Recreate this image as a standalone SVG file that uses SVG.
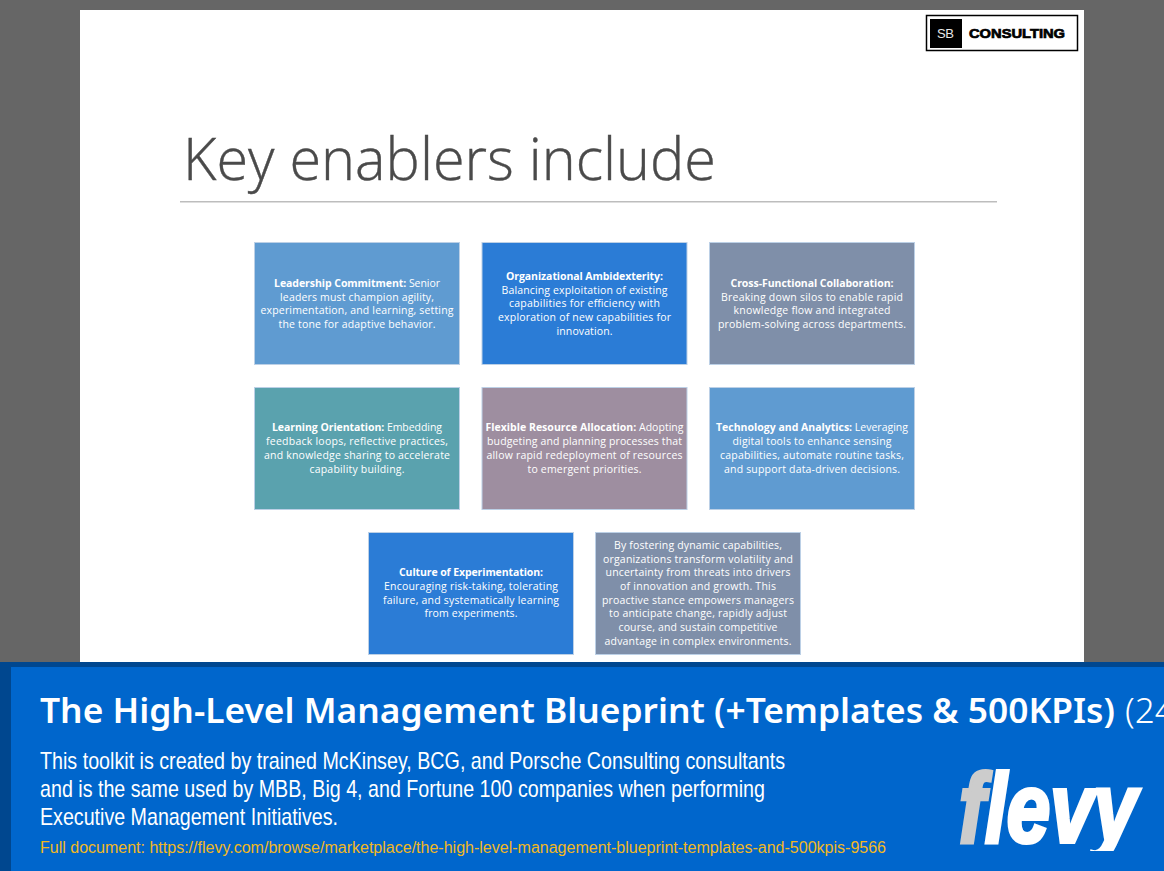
<svg xmlns="http://www.w3.org/2000/svg" width="1164" height="871" viewBox="0 0 1164 871">
<style>
.box{stroke:#bcd0e6;stroke-width:1}
.blue{fill:#5f9bd1}.deep{fill:#2b7cd6}.slate{fill:#7f8fa9}.teal{fill:#5aa2ae}.mauve{fill:#9e8ea0}
.t{font-family:"Open Sans","Noto Sans",sans-serif;font-size:10.5px;fill:#fff;text-anchor:middle}
.t .b,.b{font-weight:700}
.body{font-family:"Liberation Sans",Arial,sans-serif;font-size:24px;fill:#fff}
</style>
<defs><clipPath id="fl"><rect x="940" y="760" width="220" height="91"/></clipPath></defs>
<rect width="1164" height="871" fill="#666666"/>
<rect x="80" y="10" width="1004" height="652" fill="#ffffff"/>
<g id="logo">
<rect x="926.500" y="15.500" width="151" height="35" fill="#fff" stroke="#000" stroke-width="1.500"/>
<rect x="930" y="19" width="32" height="29" fill="#000"/>
<text x="937" y="37.500" font-family="Liberation Sans,sans-serif" font-size="13" fill="#e8e8e8" textLength="17">SB</text>
<text x="969" y="37.500" font-family="Liberation Sans,sans-serif" font-size="13" font-weight="700" stroke="#000" stroke-width=".7" fill="#000" textLength="96" lengthAdjust="spacingAndGlyphs">CONSULTING</text>
</g>
<g id="title">
<text x="183" y="180" font-family="Open Sans,Noto Sans,sans-serif" font-weight="300" font-size="59" fill="#4a4a4a" stroke="#4a4a4a" stroke-width=".4" textLength="533" lengthAdjust="spacingAndGlyphs">Key enablers include</text>
<rect x="180" y="201" width="817" height="1.500" fill="#bdbdbd"/>
</g>
<g id="connectors"></g>
<g id="n1"><rect class="box blue" x="254.500" y="242.500" width="205" height="122"/>
<text class="t" x="357" y="287" textLength="166"><tspan class="b">Leadership Commitment:</tspan> Senior</text>
<text class="t" x="357" y="301" textLength="154">leaders must champion agility,</text>
<text class="t" x="357" y="314" textLength="193">experimentation, and learning, setting</text>
<text class="t" x="357" y="328" textLength="157">the tone for adaptive behavior.</text></g>
<g id="n2"><rect class="box deep" x="482" y="242.500" width="205" height="122"/>
<text class="t" x="584.500" y="280" textLength="157"><tspan class="b">Organizational Ambidexterity:</tspan></text>
<text class="t" x="584.500" y="294" textLength="166">Balancing exploitation of existing</text>
<text class="t" x="584.500" y="307" textLength="151">capabilities for efficiency with</text>
<text class="t" x="584.500" y="321" textLength="173">exploration of new capabilities for</text>
<text class="t" x="584.500" y="335" textLength="56">innovation.</text></g>
<g id="n3"><rect class="box slate" x="709.500" y="242.500" width="205" height="122"/>
<text class="t" x="812" y="287" textLength="163"><tspan class="b">Cross-Functional Collaboration:</tspan></text>
<text class="t" x="812" y="301" textLength="182">Breaking down silos to enable rapid</text>
<text class="t" x="812" y="314" textLength="157">knowledge flow and integrated</text>
<text class="t" x="812" y="328" textLength="188">problem-solving across departments.</text></g>
<g id="n4"><rect class="box teal" x="254.500" y="387.500" width="205" height="122"/>
<text class="t" x="357" y="431" textLength="170"><tspan class="b">Learning Orientation:</tspan> Embedding</text>
<text class="t" x="357" y="445" textLength="182">feedback loops, reflective practices,</text>
<text class="t" x="357" y="459" textLength="186">and knowledge sharing to accelerate</text>
<text class="t" x="357" y="473" textLength="95">capability building.</text></g>
<g id="n5"><rect class="box mauve" x="482" y="387.500" width="205" height="122"/>
<text class="t" x="584.500" y="431" textLength="198"><tspan class="b">Flexible Resource Allocation:</tspan> Adopting</text>
<text class="t" x="584.500" y="445" textLength="195">budgeting and planning processes that</text>
<text class="t" x="584.500" y="459" textLength="196">allow rapid redeployment of resources</text>
<text class="t" x="584.500" y="473" textLength="114">to emergent priorities.</text></g>
<g id="n6"><rect class="box blue" x="709.500" y="387.500" width="205" height="122"/>
<text class="t" x="812" y="431" textLength="192"><tspan class="b">Technology and Analytics:</tspan> Leveraging</text>
<text class="t" x="812" y="445" textLength="159">digital tools to enhance sensing</text>
<text class="t" x="812" y="459" textLength="184">capabilities, automate routine tasks,</text>
<text class="t" x="812" y="473" textLength="176">and support data-driven decisions.</text></g>
<g id="n7"><rect class="box deep" x="368.500" y="532.500" width="205" height="122"/>
<text class="t" x="471" y="576" textLength="144"><tspan class="b">Culture of Experimentation:</tspan></text>
<text class="t" x="471" y="590" textLength="174">Encouraging risk-taking, tolerating</text>
<text class="t" x="471" y="604" textLength="176">failure, and systematically learning</text>
<text class="t" x="471" y="617" textLength="93">from experiments.</text></g>
<g id="n8"><rect class="box slate" x="595.500" y="532.500" width="205" height="122"/>
<text class="t" x="698" y="549" textLength="168">By fostering dynamic capabilities,</text>
<text class="t" x="698" y="563" textLength="190">organizations transform volatility and</text>
<text class="t" x="698" y="576" textLength="185">uncertainty from threats into drivers</text>
<text class="t" x="698" y="590" textLength="156">of innovation and growth. This</text>
<text class="t" x="698" y="604" textLength="192">proactive stance empowers managers</text>
<text class="t" x="698" y="617" textLength="178">to anticipate change, rapidly adjust</text>
<text class="t" x="698" y="631" textLength="159">course, and sustain competitive</text>
<text class="t" x="698" y="645" textLength="187">advantage in complex environments.</text></g>
<g id="banner">
<rect x="0" y="662" width="1164" height="209" fill="#00478f"/>
<rect x="11" y="667" width="1153" height="204" fill="#0066cc"/>
<text x="40" y="723" font-family="Noto Sans,sans-serif" font-weight="600" font-size="35" fill="#fff" textLength="1075" lengthAdjust="spacingAndGlyphs">The High-Level Management Blueprint (+Templates &amp; 500KPIs)</text>
<text x="1125" y="723" font-family="Noto Sans,sans-serif" font-weight="300" font-size="35" fill="#fff">(24</text>
<text class="body" x="40" y="769" textLength="745" lengthAdjust="spacingAndGlyphs">This toolkit is created by trained McKinsey, BCG, and Porsche Consulting consultants</text>
<text class="body" x="40" y="797" textLength="725" lengthAdjust="spacingAndGlyphs">and is the same used by MBB, Big 4, and Fortune 100 companies when performing</text>
<text class="body" x="40" y="825" textLength="298" lengthAdjust="spacingAndGlyphs">Executive Management Initiatives.</text>
<text x="40" y="853" font-family="Liberation Sans,sans-serif" font-size="16" fill="#f2b81e" textLength="846" lengthAdjust="spacingAndGlyphs">Full document: https://flevy.com/browse/marketplace/the-high-level-management-blueprint-templates-and-500kpis-9566</text>
</g>
<g id="flevy" clip-path="url(#fl)">
<text x="959" y="842" font-family="Liberation Sans,sans-serif" font-weight="700" font-style="italic" font-size="98" stroke-width="4" fill="#fff" stroke="#fff" textLength="178" lengthAdjust="spacingAndGlyphs"><tspan fill="#cccccc" stroke="#cccccc">f</tspan>levy</text>
</g>
</svg>
